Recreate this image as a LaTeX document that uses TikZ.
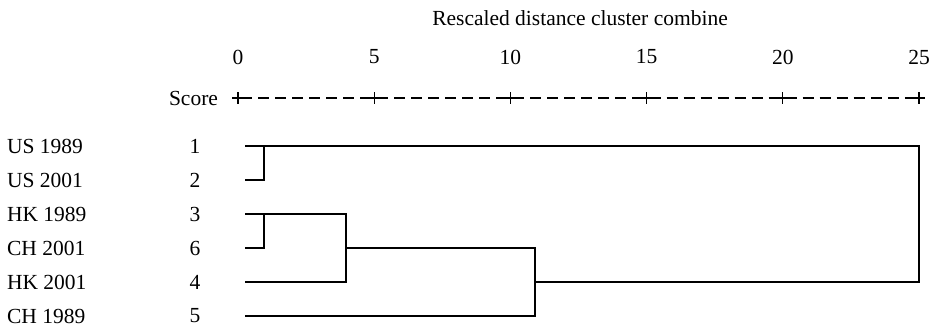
\documentclass[tikz,border=0pt]{standalone}
\usepackage{fontspec}
\setmainfont{Liberation Serif}
\usetikzlibrary{positioning}

\begin{document}
\begin{tikzpicture}[x=1pt, y=-1pt, font=\fontsize{21.5}{25}\selectfont, line width=1.4pt]
    \useasboundingbox (0,0) rectangle (937,329);
    % Scale: 0 to 25 runs from x=238 to x=919
    \def\xzero{238}
    \def\xunit{27.24}

    % Title
    \node (title) at (580,18) {Rescaled distance cluster combine};

    % Tick labels and the "+" marks of the score line
    \node[anchor=east] (score) at (222,98) {Score};
    \draw[line width=1.1pt, dash pattern=on 11.02pt off 6pt, dash phase=-3pt] (\xzero,98) -- (919,98);
    \foreach \v in {0,5,...,25} {
        \node (num\v) at ({\xzero+\v*\xunit},57) {\v};
        \draw[line width=1.1pt] ({\xzero+\v*\xunit-6},98) -- ++(12,0);
        \draw[line width=1.1pt] ({\xzero+\v*\xunit},92) -- ++(0,12);
    }

    % Cases: label, case number and leaf end
    \foreach \lab/\num [count=\i] in {US 1989/1, US 2001/2, HK 1989/3, CH 2001/6, HK 2001/4, CH 1989/5} {
        \node[anchor=west] (lab\i) at (3,{112+34*\i}) {\lab};
        \node (id\i) at (195,{112+34*\i}) {\num};
        \coordinate (leaf\i) at (245,{112+34*\i});
    }

    % US 1989 + US 2001 (1.0)
    \draw (leaf2) -| (264,146);
    % HK 1989 + CH 2001 (1.0)
    \draw (leaf4) -| (264,214);
    % + HK 2001 (4.0)
    \draw (leaf3) -- (346,214) -- (346,282) -- (leaf5);
    % + CH 1989 (10.9)
    \draw (346,248) -- (535,248) -- (535,316) -- (leaf6);
    % all cases (25)
    \draw (leaf1) -- (919,146) -- (919,282) -- (535,282);
\end{tikzpicture}
\end{document}
